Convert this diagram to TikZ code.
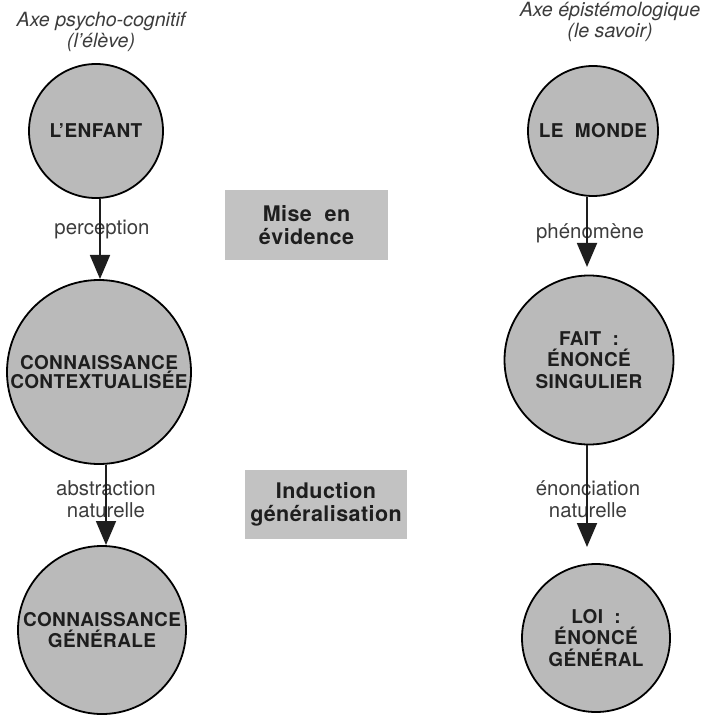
\documentclass[tikz,border=0pt]{standalone}
\usepackage{fontspec}
\setmainfont{TeX Gyre Heros}
\usetikzlibrary{arrows.meta}
\definecolor{cfill}{RGB}{186,186,186}
\definecolor{bfill}{RGB}{194,194,194}
\definecolor{ink}{RGB}{30,30,30}
\definecolor{lab}{RGB}{60,60,60}
\begin{document}
\begin{tikzpicture}[x=0.5pt,y=-0.5pt,
  circ/.style={circle,draw=black,line width=0.9pt,fill=cfill,inner sep=0pt,align=center,
    font=\fontsize{9.5}{10.6}\selectfont\bfseries\addfontfeatures{LetterSpace=2},text=ink},
  boxm/.style={rectangle,fill=bfill,inner sep=0pt,align=center,
    font=\fontsize{10.75}{11.8}\selectfont\bfseries\addfontfeatures{LetterSpace=2},text=ink},
  lbl/.style={align=center,inner sep=0pt,font=\fontsize{10.2}{11}\selectfont,text=lab},
  hdr/.style={align=center,inner sep=0pt,font=\fontsize{9.8}{10.5}\selectfont\itshape,text=lab},
  arr/.style={-{Triangle[width=10pt,length=12pt]},line width=0.9pt,draw=ink}
]
\useasboundingbox (0,0) rectangle (708,715);

% headers
\node[hdr] (h1) at (101,32) {Axe psycho-cognitif\\(l'élève)};
\node[hdr] (h2) at (610,22) {Axe épistémologique\\(le savoir)};

% left column
\node[circ,minimum size=67pt] (enfant) at (96,131) {L'ENFANT};
\node[circ,minimum size=92pt] (ctx) at (99,372) {CONNAISSANCE\\[-1.5pt]CONTEXTUALISÉE};
\node[circ,minimum size=84pt] (gen) at (102,630) {CONNAISSANCE\\GÉNÉRALE};

% right column
\node[circ,minimum size=65pt] (monde) at (593,131) {LE\ \ MONDE};
\node[circ,minimum size=84.5pt] (fait) at (589,360) {FAIT\ \ :\\ÉNONCÉ\\SINGULIER};
\node[circ,minimum size=74pt] (loi) at (596,638) {LOI\ \ :\\ÉNONCÉ\\GÉNÉRAL};

% middle boxes
\node[boxm,minimum width=81.5pt,minimum height=35pt] (mise) at (306.5,225) {Mise\ \ en\\évidence};
\node[boxm,minimum width=81pt,minimum height=34.5pt] (induc) at (326,504.5) {Induction\\généralisation};

% labels
\node[lbl] (l1) at (102,230) {perception};
\node[lbl] (l2) at (106,499) {abstraction\\naturelle};
\node[lbl] (l3) at (590,233) {phénomène};
\node[lbl] (l4) at (588,499) {énonciation\\naturelle};

% arrows
\coordinate (t1) at (100,279);
\coordinate (t2) at (106,545);
\coordinate (t3) at (587,267);
\coordinate (t4) at (587,547);
\draw[arr] (enfant.south -| t1) -- (t1);
\draw[arr] (ctx.south -| t2) -- (t2);
\draw[arr] (monde.south -| t3) -- (t3);
\draw[arr] (fait.south -| t4) -- (t4);
\end{tikzpicture}
\end{document}
